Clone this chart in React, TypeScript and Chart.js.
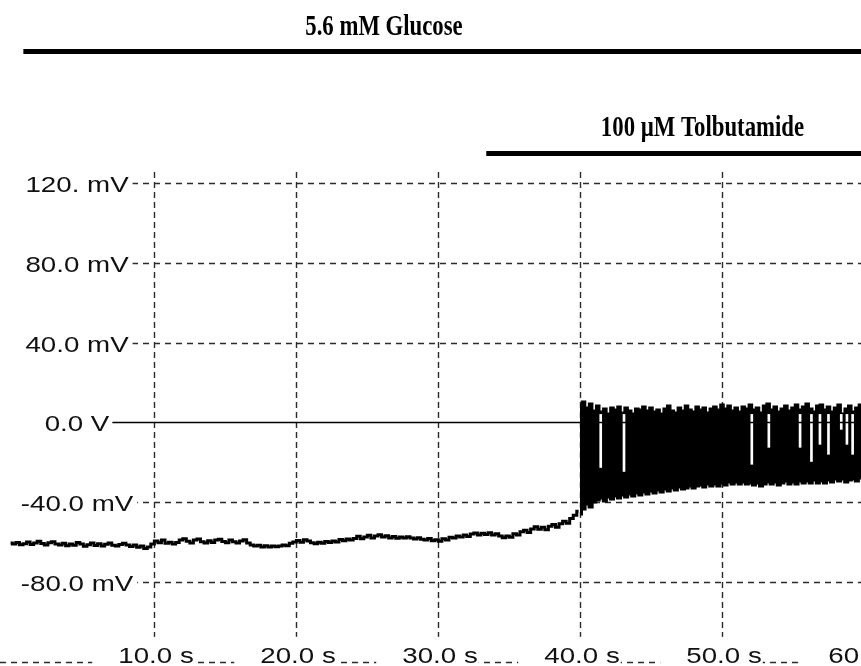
import React, { useEffect, useRef } from "react";
import { Chart, registerables } from "chart.js";

Chart.register(...registerables);

// ---- data ----
const sampleStep = 0.25; // s between samples
const baselineStart = -0.1; // s
const bandStart = 40.0; // s

// membrane potential before tolbutamide effect (mV), every 0.25 s from -0.1 s
const baselineMv = [
  -60.5, -61.0, -60.2, -61.3, -60.8, -60.0, -61.2, -60.4, -59.6, -60.7,
  -61.5, -60.3, -59.8, -60.9, -61.4, -60.6, -61.8, -60.9, -61.6, -60.2,
  -61.0, -62.1, -61.3, -60.5, -61.7, -60.8, -61.9, -61.1, -60.4, -61.6,
  -62.0, -61.2, -60.6, -61.5, -62.2, -61.4, -62.6, -62.0, -63.2, -62.4,
  -61.0, -59.4, -60.3, -59.0, -60.6, -60.1, -61.0, -60.2, -58.9, -58.3,
  -59.6, -60.4, -59.0, -58.5, -59.8, -60.5, -59.3, -60.2, -59.0, -58.6,
  -59.7, -60.3, -58.9, -59.8, -60.5, -59.4, -58.8, -60.4, -61.5, -62.0,
  -61.6, -62.4, -61.8, -62.5, -61.9, -62.3, -62.0, -61.4, -61.8, -60.6,
  -60.0, -59.2, -60.1, -58.8, -59.5, -60.3, -60.8, -60.1, -60.6, -59.7,
  -60.2, -59.4, -59.9, -58.7, -59.3, -58.4, -59.0, -58.2, -57.1, -58.3,
  -57.4, -56.6, -57.9, -57.0, -56.3, -57.5, -56.8, -57.9, -57.2, -58.1,
  -57.4, -58.0, -57.3, -57.9, -58.5, -57.8, -58.6, -59.0, -58.2, -59.3,
  -58.8, -59.6, -58.3, -58.9, -57.6, -58.0, -56.9, -57.5, -56.4, -57.2,
  -56.0, -55.4, -56.5, -55.6, -56.2, -55.3, -56.4, -55.8, -57.0, -57.8,
  -56.9, -57.6, -55.8, -56.5, -54.8, -54.0, -55.2, -53.4, -52.3, -53.6,
  -52.5, -53.8, -52.0, -51.2, -52.6, -50.8, -49.6, -50.5, -48.2, -46.5,
  -44.5,
];

// spiking band: upper envelope (spike peaks) and lower envelope (troughs), mV, every 0.25 s from 40 s
const bandUpperMv = [
  9.0, 10.5, 7.5, 9.5, 6.0, 8.5, 5.5, 7.0, 4.5, 7.5,
  6.5, 8.0, 5.0, 7.5, 6.0, 4.5, 7.0, 6.5, 8.0, 6.0,
  7.5, 5.5, 6.5, 4.5, 7.0, 8.5, 6.0, 5.0, 7.5, 6.0,
  8.5, 6.5, 5.5, 8.0, 6.5, 7.5, 5.0, 7.0, 8.0, 6.5,
  9.0, 7.0, 8.5, 6.0, 7.5, 5.5, 8.0, 7.0, 9.0, 6.5,
  7.5, 5.0, 8.5, 9.5, 6.5, 8.0, 5.5, 7.0, 8.5, 6.0,
  7.5, 9.0, 6.5, 8.0, 9.5, 7.0, 5.5, 8.5, 9.0, 6.5,
  8.0, 5.5, 7.5, 9.0, 4.5, 7.0, 8.5, 5.5, 7.5, 9.0,
  8.0,
];
const bandLowerMv = [
  -46.0, -43.5, -41.0, -42.5, -40.0, -39.0, -38.0, -39.5, -37.5, -38.5,
  -37.0, -38.0, -36.5, -37.5, -36.0, -37.0, -35.5, -36.5, -35.0, -36.0,
  -34.5, -35.5, -34.0, -35.0, -33.5, -34.5, -33.0, -34.0, -32.5, -33.5,
  -33.0, -32.0, -33.0, -32.0, -31.5, -32.5, -31.0, -32.0, -31.0, -32.0,
  -30.5, -31.5, -30.0, -31.0, -30.0, -31.0, -30.0, -31.0, -30.5, -31.5,
  -30.5, -32.0, -31.0, -30.0, -31.0, -30.0, -31.5, -30.5, -29.5, -31.0,
  -30.0, -31.0, -29.5, -30.5, -29.5, -30.5, -29.0, -30.5, -29.5, -30.5,
  -29.0, -30.0, -28.5, -29.5, -28.5, -30.0, -29.0, -28.5, -29.5, -28.0,
  -29.0,
];

// white gaps inside the band (failed spikes)
const gapTimes = [41.46, 43.1, 52.1, 53.3, 55.5, 56.3, 56.9, 57.5, 58.4, 58.8, 59.2];
const gapBottomMv = [-22.6, -24.6, -21, -12.5, -12.5, -19.6, -11, -16, -3.5, -11, -16];
const gapTopMv = 4;

// axes
const yTickValues = [120, 80, 40, 0, -40, -80];
const yTickLabels = ["120. mV", "80.0 mV", "40.0 mV", "0.0 V", "-40.0 mV", "-80.0 mV"];
const xTickValues = [10, 20, 30, 40, 50, 60];
const xTickLabels = ["10.0 s", "20.0 s", "30.0 s", "40.0 s", "50.0 s", "60.0 s"];
const xLabelRowMv = -120;
const xRange = [-0.845, 59.79];
const yRange = [-122.1, 125.5];

// application bars
const glucoseLabel = "5.6 mM Glucose";
const glucoseStartS = 0.8;
const tolbLabel = "100 µM Tolbutamide";
const tolbStartS = 33.4;

// ---- drawing helpers ----
const LABEL_FONT = "22px 'Liberation Sans', Arial, sans-serif";
const LABEL_SX = 1.26;
const TITLE_FONT = "bold 29px 'Liberation Serif', 'Times New Roman', serif";
const TITLE_SX = 0.785;

function textWidth(ctx: CanvasRenderingContext2D, text: string, sx: number) {
  return ctx.measureText(text).width * sx;
}
function drawScaledText(ctx: CanvasRenderingContext2D, text: string, left: number, baseline: number, sx: number) {
  ctx.save();
  ctx.translate(left, baseline);
  ctx.scale(sx, 1);
  ctx.textAlign = "left";
  ctx.textBaseline = "alphabetic";
  ctx.fillText(text, 0, 0);
  ctx.restore();
}

const overlayPlugin = {
  id: "overlay",
  beforeDatasetsDraw(chart: any) {
    const { ctx, chartArea, scales } = chart;
    const x = scales.x;
    const y = scales.y;
    ctx.save();
    ctx.strokeStyle = "#2b2b2b";
    ctx.lineWidth = 1.4;
    ctx.setLineDash([6, 5]);
    for (const v of [...yTickValues, xLabelRowMv]) {
      if (v === 0) continue;
      const py = Math.round(y.getPixelForValue(v)) + 0.5;
      ctx.beginPath();
      ctx.moveTo(0, py);
      ctx.lineTo(chart.width, py);
      ctx.stroke();
    }
    ctx.setLineDash([6, 4]);
    for (const v of xTickValues) {
      const px = Math.round(x.getPixelForValue(v)) + 0.5;
      ctx.beginPath();
      ctx.moveTo(px, chartArea.top);
      ctx.lineTo(px, chartArea.bottom);
      ctx.stroke();
    }
    ctx.restore();
  },
  afterDatasetsDraw(chart: any) {
    const { ctx, scales } = chart;
    const x = scales.x;
    const y = scales.y;
    ctx.save();
    ctx.font = LABEL_FONT;
    ctx.fillStyle = "#111";
    const labelCenter = 77;
    // y labels
    yTickValues.forEach((v, i) => {
      const py = y.getPixelForValue(v);
      const text = yTickLabels[i];
      const w = textWidth(ctx, text, LABEL_SX);
      const left = labelCenter - w / 2;
      ctx.fillStyle = "#fff";
      ctx.fillRect(0, py - 13, left + w + 4, 26);
      ctx.fillStyle = "#111";
      drawScaledText(ctx, text, left, py + 9, LABEL_SX);
      if (v === 0) {
        ctx.strokeStyle = "#000";
        ctx.lineWidth = 1.6;
        ctx.setLineDash([]);
        const pz = Math.round(py) + 0.5;
        ctx.beginPath();
        ctx.moveTo(left + w + 3, pz);
        ctx.lineTo(chart.width, pz);
        ctx.stroke();
      }
    });
    // x labels on the bottom row
    const rowY = y.getPixelForValue(xLabelRowMv);
    xTickValues.forEach((v, i) => {
      const px = x.getPixelForValue(v) + 2;
      const text = xTickLabels[i];
      const w = textWidth(ctx, text, LABEL_SX);
      const left = px - w / 2;
      ctx.fillStyle = "#fff";
      ctx.fillRect(left - 26, rowY - 25, w + 27, 32);
      ctx.fillStyle = "#111";
      drawScaledText(ctx, text, left, rowY + 1.5, LABEL_SX);
    });
    ctx.restore();
  },
  afterDraw(chart: any) {
    const { ctx, scales } = chart;
    const x = scales.x;
    ctx.save();
    ctx.fillStyle = "#000";
    // application bars + labels
    const g0 = x.getPixelForValue(glucoseStartS);
    ctx.fillRect(g0, 49, chart.width - g0, 5);
    const t0 = x.getPixelForValue(tolbStartS);
    ctx.fillRect(t0, 151, chart.width - t0, 5);
    ctx.font = TITLE_FONT;
    const gw = textWidth(ctx, glucoseLabel, TITLE_SX);
    drawScaledText(ctx, glucoseLabel, 384 - gw / 2, 35, TITLE_SX);
    const tw = textWidth(ctx, tolbLabel, TITLE_SX);
    drawScaledText(ctx, tolbLabel, 702.5 - tw / 2, 136, TITLE_SX);
    ctx.restore();
  },
};

export default function App() {
  const canvasRef = useRef<HTMLCanvasElement>(null);

  useEffect(() => {
    const baselinePts = baselineMv.map((v, i) => ({ x: baselineStart + i * sampleStep, y: v }));
    const upperPts = bandUpperMv.map((v, i) => ({ x: bandStart + i * sampleStep, y: v }));
    const lowerPts = bandLowerMv.map((v, i) => ({ x: bandStart + i * sampleStep, y: v }));
    const gapPts = gapTimes.map((t, i) => ({ x: t, y: [gapBottomMv[i], gapTopMv] }));

    const chart = new Chart(canvasRef.current as HTMLCanvasElement, {
      type: "line",
      data: {
        datasets: [
          {
            type: "bar",
            data: gapPts as any,
            backgroundColor: "#ffffff",
            borderWidth: 0,
            barThickness: 2,
            order: 0,
          } as any,
          {
            data: upperPts,
            borderColor: "#000",
            backgroundColor: "#000",
            borderWidth: 2,
            pointRadius: 0,
            stepped: "middle",
            fill: "+1",
            order: 1,
          },
          {
            data: lowerPts,
            borderColor: "#000",
            borderWidth: 2.5,
            pointRadius: 0,
            stepped: "middle",
            fill: false,
            order: 1,
          },
          {
            data: baselinePts,
            borderColor: "#000",
            borderWidth: 3,
            pointRadius: 0,
            stepped: "middle",
            fill: false,
            order: 2,
          },
        ],
      },
      options: {
        responsive: false,
        animation: false,
        devicePixelRatio: 1,
        layout: { padding: { top: 172, left: 0, right: 0, bottom: 0 } },
        plugins: {
          legend: { display: false },
          tooltip: { enabled: false },
          title: { display: false },
        },
        scales: {
          x: {
            type: "linear",
            min: xRange[0],
            max: xRange[1],
            offset: false,
            display: false,
          },
          y: {
            type: "linear",
            min: yRange[0],
            max: yRange[1],
            display: false,
          },
        },
      },
      plugins: [overlayPlugin],
    });
    return () => chart.destroy();
  }, []);

  return (
    <div style={{ position: "absolute", left: 0, top: 0, width: 861, height: 666, background: "#fff" }}>
      <canvas ref={canvasRef} width={861} height={666} style={{ display: "block", width: 861, height: 666 }} />
    </div>
  );
}
